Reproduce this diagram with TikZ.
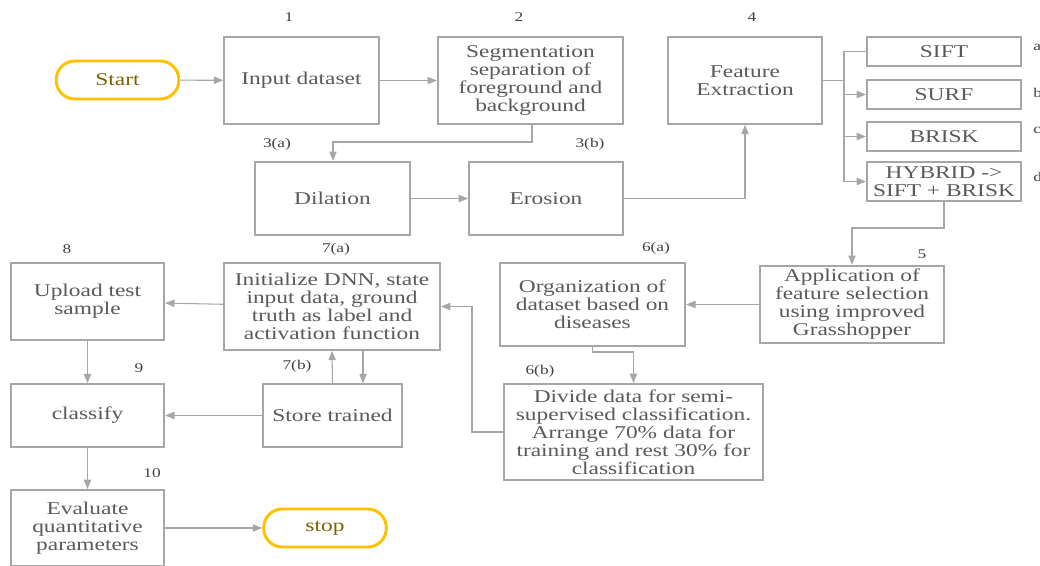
\documentclass[tikz,border=0pt]{standalone}
\usepackage{fontspec}
\setmainfont{Liberation Serif}[FakeStretch=1.3]
\usetikzlibrary{arrows.meta,positioning}
\definecolor{boxgray}{RGB}{166,166,166}
\definecolor{linegray}{RGB}{166,166,166}
\definecolor{textgray}{RGB}{89,89,89}
\definecolor{numgray}{RGB}{64,64,64}
\definecolor{gold}{RGB}{255,192,0}
\definecolor{darkgold}{RGB}{127,96,0}

\begin{document}
\begin{tikzpicture}[
    x=0.75pt, y=-0.75pt,
    box/.style={rectangle, draw=boxgray, line width=1.5pt, align=center, text=textgray, inner sep=2pt,
                font=\fontsize{13.5}{13.5}\selectfont},
    term/.style={rectangle, draw=gold, line width=2.2pt, rounded corners=14pt, text=darkgold,
                 minimum width=92pt, minimum height=28.5pt, font=\fontsize{13.5}{13.5}\selectfont},
    num/.style={text=numgray, font=\fontsize{10}{11}\selectfont, inner sep=0pt},
    arrow/.style={-{Triangle[length=7pt,width=5.5pt]}, linegray, line width=0.8pt},
    line/.style={linegray, line width=0.8pt}
]
\useasboundingbox (0,0) rectangle (1040,565);

% Top row
\node[term] (start) at (117.5,80) {Start};
\node[box, minimum width=116pt, minimum height=65pt] (input) at (301.5,80.5) {Input dataset};
\node[box, minimum width=139pt, minimum height=65pt] (segment) at (530.5,80.5) {Segmentation\\separation of\\foreground and\\background};
\node[box, minimum width=115.5pt, minimum height=65pt] (feature) at (745,80.5) {Feature\\Extraction};

% Feature methods
\node[box, minimum width=115.5pt, minimum height=22pt] (sift) at (944,51.5) {SIFT};
\node[box, minimum width=115.5pt, minimum height=22pt] (surf) at (944,94.5) {SURF};
\node[box, minimum width=115.5pt, minimum height=22pt] (brisk) at (944,136.5) {BRISK};
\node[box, minimum width=115.5pt, minimum height=29pt] (hybrid) at (944,181.5) {HYBRID ->\\SIFT + BRISK};

% Morphology
\node[box, minimum width=116pt, minimum height=55pt] (dilation) at (332.5,198.5) {Dilation};
\node[box, minimum width=115.5pt, minimum height=55pt] (erosion) at (546,198.5) {Erosion};

% Middle row
\node[box, minimum width=115pt, minimum height=58pt] (upload) at (87.5,301.5) {Upload test\\sample};
\node[box, minimum width=162pt, minimum height=65pt] (init) at (332,306.5) {Initialize DNN, state\\input data, ground\\truth as label and\\activation function};
\node[box, minimum width=139pt, minimum height=62pt] (organize) at (592.5,304.5) {Organization of\\dataset based on\\diseases};
\node[box, minimum width=138pt, minimum height=58pt] (select) at (852,304.5) {Application of\\feature selection\\using improved\\Grasshopper};

% Lower rows
\node[box, minimum width=115pt, minimum height=47pt] (classify) at (87.5,415.5) {classify};
\node[box, minimum width=104pt, minimum height=47pt] (store) at (332.5,415.5) {Store trained};
\node[box, minimum width=194pt, minimum height=72pt] (divide) at (633.5,432) {Divide data for semi-\\supervised classification.\\Arrange 70\% data for\\training and rest 30\% for\\classification};
\node[box, minimum width=115pt, minimum height=57pt] (evaluate) at (87.5,528) {Evaluate\\quantitative\\parameters};
\node[term] (stop) at (325,528) {stop};

% Step numbers
\node[num] (n1) at (289,17) {1};
\node[num] (n2) at (519,17) {2};
\node[num] (n4) at (752,17) {4};
\node[num, anchor=west] (na) at (1033,47) {a};
\node[num, anchor=west] (nb) at (1033,93) {b};
\node[num, anchor=west] (nc) at (1033,130) {c};
\node[num, anchor=west] (nd) at (1033,177) {d};
\node[num] (n3a) at (277,144) {3(a)};
\node[num] (n3b) at (590,144) {3(b)};
\node[num] (n8) at (67,249) {8};
\node[num] (n7a) at (336,249) {7(a)};
\node[num] (n6a) at (656,248) {6(a)};
\node[num] (n5) at (922,254) {5};
\node[num] (n9) at (139,368) {9};
\node[num] (n7b) at (297,366) {7(b)};
\node[num] (n6b) at (540,371) {6(b)};
\node[num] (n10) at (152,473) {10};

% Connectors
\coordinate (fork) at (844,80.5);
\draw[arrow] (start) -- (input);
\draw[arrow] (input) -- (segment);
\draw[arrow] (segment.south -| 532,0) |- (333,142) -- (dilation.north -| 333,0);
\draw[arrow] (dilation) -- (erosion);
\draw[arrow] (erosion.east) -| (feature.south);
\draw[line] (feature.east) -- (fork) |- (sift.west);
\draw[arrow] (fork) |- (surf.west);
\draw[arrow] (fork) |- (brisk.west);
\draw[arrow] (fork) |- (hybrid.west);
\draw[arrow] (hybrid.south) -- (944,228) -| (select.north);
\draw[arrow] (select) -- (organize);
\draw[arrow] (organize.south) -- (592.5,352) -| (divide.north);
\draw[arrow] (divide.west) -| (472,306.5) -- (init.east);
\draw[arrow] (init) -- (upload);
\draw[arrow] (store.north) -- (init.south);
\draw[arrow] (init.south -| 363,0) -- (store.north -| 363,0);
\draw[arrow] (upload) -- (classify);
\draw[arrow] (store) -- (classify);
\draw[arrow] (classify) -- (evaluate);
\draw[arrow] (evaluate) -- (stop);

\end{tikzpicture}
\end{document}
